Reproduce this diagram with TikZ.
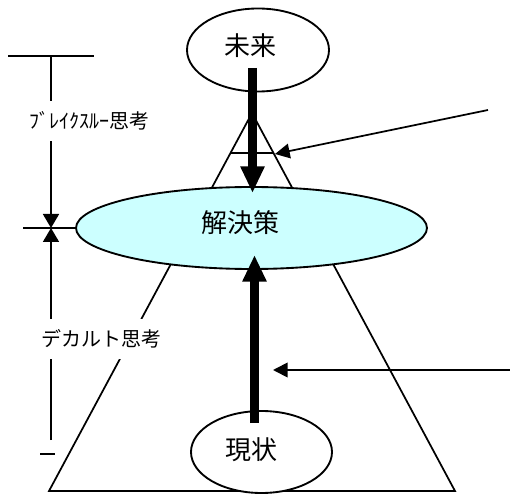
\documentclass[tikz,border=0pt]{standalone}
\usepackage{fontspec}
\setmainfont{Noto Sans CJK JP}
\usetikzlibrary{shapes.geometric,arrows.meta}
\definecolor{solfill}{HTML}{CCFFFF}
\tikzset{
  oval/.style={ellipse, draw=black, line width=1.4pt, inner sep=0pt},
  bigtxt/.style={inner sep=0pt, font=\fontsize{19.5pt}{20pt}\selectfont},
  smalltxt/.style={fill=white, inner xsep=3pt, inner ysep=8pt, font=\fontsize{15pt}{16pt}\selectfont},
  thin/.style={line width=1.3pt},
  thick arrow/.style={line width=6.8pt, -{Triangle[length=20pt,width=17pt]}},
  ptr/.style={line width=1.3pt, -{Triangle[length=11pt,width=11pt]}},
  dimarrow/.style={line width=1.3pt, -{Triangle[length=10.5pt,width=12pt]}}
}
\begin{document}
\begin{tikzpicture}[x=0.75pt,y=-0.75pt]
\useasboundingbox (0,0) rectangle (510,495);
% big triangle
\coordinate (apex) at (252,113);
\coordinate (bl) at (49,491);
\coordinate (br) at (455,491);
\draw[thin, line join=miter] (apex) -- (bl) -- (br) -- cycle;
\coordinate (cl) at (230.5,153);
\coordinate (cr) at (273.5,153);
\draw[thin] (cl) -- (cr);
% ellipses
\node[oval, minimum width=106.5pt, minimum height=62.25pt] (future) at (258,50) {};
\node[bigtxt] (futuretxt) at (250,46) {未来};
\node[oval, fill=solfill, minimum width=263.25pt, minimum height=61.5pt] (sol) at (251.5,228) {};
\node[bigtxt] (soltxt) at (240,223) {解決策};
\node[oval, fill=white, minimum width=105.75pt, minimum height=61.5pt] (now) at (261.5,452) {};
\node[bigtxt] (nowtxt) at (251.5,450) {現状};
% thick arrows
\coordinate (ds) at (252.5,68);
\coordinate (de) at (252.5,193);
\draw[thick arrow] (ds) -- (de);
\coordinate (us) at (254.5,423);
\coordinate (ue) at (254.5,255);
\draw[thick arrow] (us) -- (ue);
% pointer arrows
\coordinate (p1s) at (488,110);
\coordinate (p1e) at (275,154);
\draw[ptr] (p1s) -- (p1e);
\coordinate (p2s) at (510,370);
\coordinate (p2e) at (273,370);
\draw[ptr] (p2s) -- (p2e);
% dimension at left
\coordinate (tb1) at (8,56);
\coordinate (tb2) at (94,56);
\draw[thin] (tb1) -- (tb2);
\coordinate (v1a) at (51,56);
\coordinate (v2b) at (51,228);
\draw[dimarrow] (v1a) -- (v2b);
\node[smalltxt] (brk) at (89,121) {ﾌﾞﾚｲｸｽﾙｰ思考};
\coordinate (hb) at (23,228);
\draw[thin] (hb) -- (sol.west);
\coordinate (v4b) at (51,440);
\draw[dimarrow] (v4b) -- (v2b);
\node[smalltxt] (dec) at (101,339) {デカルト思考};
\coordinate (t1) at (40,454);
\coordinate (t2) at (55,454);
\draw[thin] (t1) -- (t2);
\end{tikzpicture}
\end{document}
